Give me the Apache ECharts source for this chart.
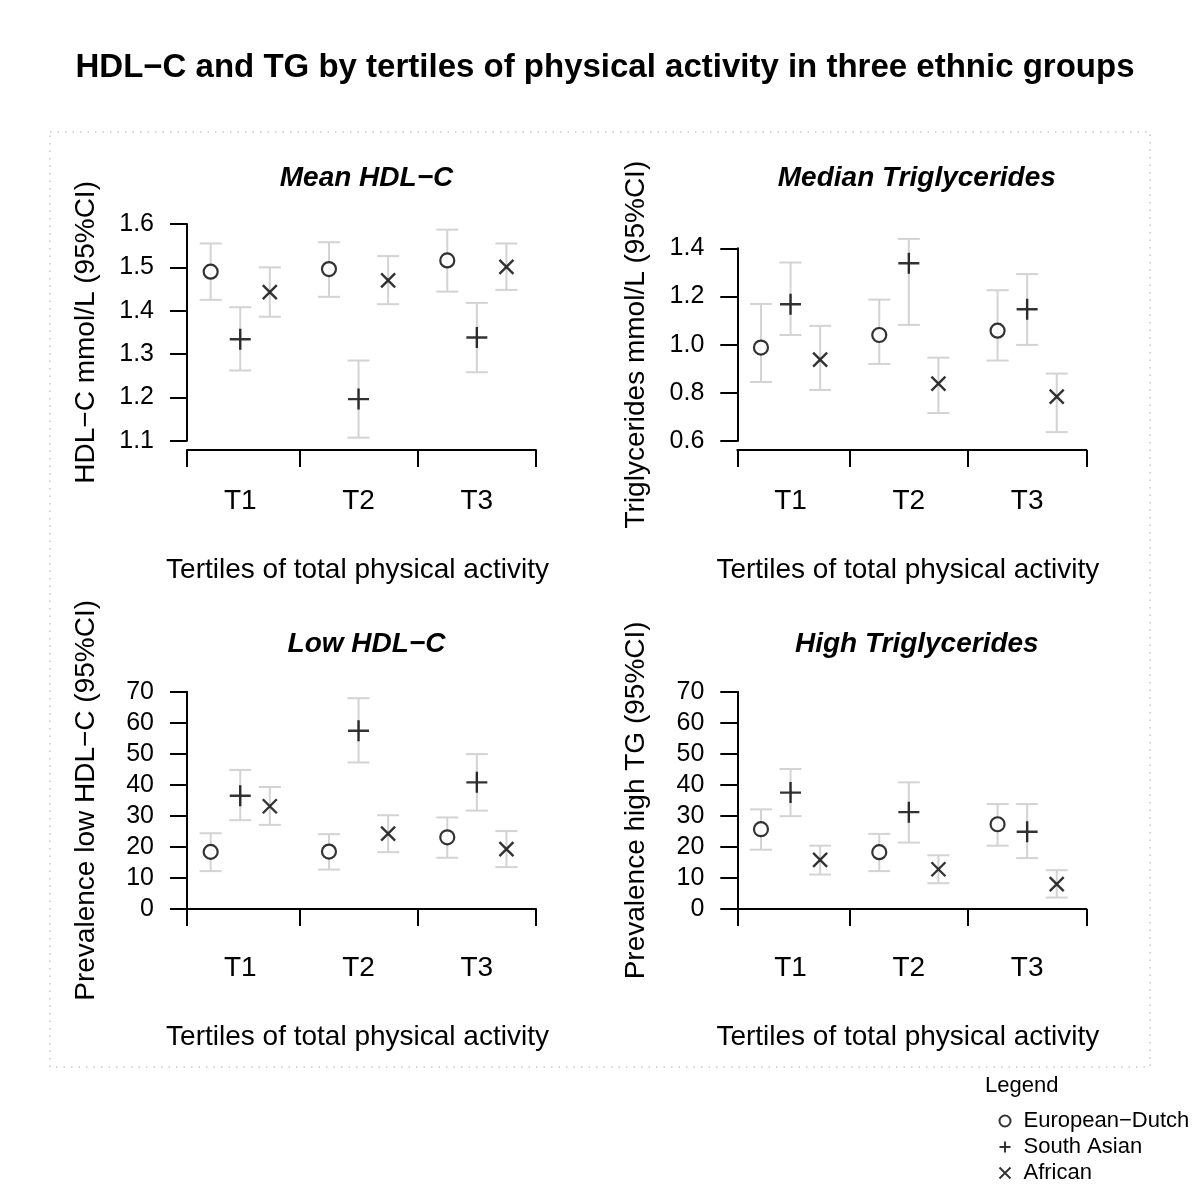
<!DOCTYPE html>
<html>
<head>
<meta charset="utf-8">
<script src="https://cdn.jsdelivr.net/npm/echarts@6/dist/echarts.min.js"></script>
<style>html,body{margin:0;padding:0;background:#fff}#c{width:1200px;height:1200px}</style>
</head>
<body>
<div id="c"></div>
<script>
// ---- Data (rows: European-Dutch, South Asian, African; columns: T1, T2, T3) ----
const categories = ['T1', 'T2', 'T3'];
const groups = ['European\u2212Dutch', 'South Asian', 'African'];

const hdlMean  = [[1.490, 1.496, 1.516], [1.334, 1.196, 1.338], [1.443, 1.470, 1.501]];
const hdlLower = [[1.425, 1.432, 1.444], [1.262, 1.107, 1.258], [1.386, 1.415, 1.448]];
const hdlUpper = [[1.555, 1.558, 1.587], [1.408, 1.285, 1.418], [1.500, 1.526, 1.555]];

const tgMedian = [[0.988, 1.040, 1.058], [1.168, 1.338, 1.147], [0.938, 0.838, 0.784]];
const tgLower  = [[0.845, 0.920, 0.934], [1.040, 1.082, 0.999], [0.812, 0.716, 0.637]];
const tgUpper  = [[1.169, 1.187, 1.226], [1.341, 1.439, 1.293], [1.078, 0.946, 0.880]];

const lowHdlPrev  = [[18.4, 18.5, 23.1], [36.5, 57.4, 40.8], [33.1, 24.3, 19.3]];
const lowHdlLower = [[12.2, 12.7, 16.5], [28.6, 47.2, 31.7], [27.1, 18.3, 13.5]];
const lowHdlUpper = [[24.4, 24.1, 29.5], [44.8, 67.9, 49.9], [39.3, 30.2, 25.1]];

const highTgPrev  = [[25.7, 18.3, 27.3], [37.5, 31.2, 24.9], [15.8, 12.8, 8.0]];
const highTgLower = [[19.1, 12.2, 20.4], [29.9, 21.4, 16.4], [11.1, 8.3, 3.7]];
const highTgUpper = [[32.1, 24.2, 33.8], [45.1, 40.8, 33.8], [20.4, 17.3, 12.5]];

const hdlTicks = [1.1, 1.6, 0.1];
const tgTicks = [0.6, 1.4, 0.2];
const prevTicks = [0, 70, 10];

// ---- Layout ----
const FONT = 'Liberation Sans';
const panels = [
  { title: 'Mean HDL\u2212C', yName: 'HDL\u2212C mmol/L (95%CI)', mean: hdlMean, lo: hdlLower, hi: hdlUpper, ticks: hdlTicks, dec: 1,
    left: 187, top: 224, height: 216.7, xOffset: 9.3, titleY: 175 },
  { title: 'Median Triglycerides', yName: 'Triglycerides mmol/L (95%CI)', mean: tgMedian, lo: tgLower, hi: tgUpper, ticks: tgTicks, dec: 1,
    left: 737.3, top: 248.3, height: 192.7, xOffset: 9, titleY: 175 },
  { title: 'Low HDL\u2212C', yName: 'Prevalence low HDL\u2212C (95%CI)', mean: lowHdlPrev, lo: lowHdlLower, hi: lowHdlUpper, ticks: prevTicks, dec: 0,
    left: 187, top: 691.7, height: 217.3, xOffset: 8.3, titleY: 641 },
  { title: 'High Triglycerides', yName: 'Prevalence high TG (95%CI)', mean: highTgPrev, lo: highTgLower, hi: highTgUpper, ticks: prevTicks, dec: 0,
    left: 737.3, top: 691.7, height: 217.3, xOffset: 8.3, titleY: 641 }
];
const GW = 349;
const xPos = (t, g) => 4 * t + g + 1;

const symbols = [
  { symbol: 'circle', size: 14, style: { color: '#ffffff', borderColor: '#000', borderWidth: 2.2 } },
  { symbol: 'path://M0,5L10,5M5,0L5,10', size: 21, style: { color: 'none', borderColor: '#000', borderWidth: 2.4 } },
  { symbol: 'path://M0,0L10,10M10,0L0,10', size: 14, style: { color: 'none', borderColor: '#000', borderWidth: 2.4 } }
];

const grid = [], xAxis = [], yAxis = [], series = [], titles = [];

titles.push({
  text: 'HDL\u2212C and TG by tertiles of physical activity in three ethnic groups',
  left: 600, top: 46, textAlign: 'center',
  textStyle: { fontFamily: FONT, fontSize: 33, fontWeight: 'bold', color: '#000' }
});
titles.push({
  text: 'Legend', left: 980, top: 1070,
  textStyle: { fontFamily: FONT, fontSize: 22, fontWeight: 'normal', color: '#000' }
});

panels.forEach((p, i) => {
  grid.push({ left: p.left, top: p.top, width: GW, height: p.height, containLabel: false });
  titles.push({
    text: p.title, left: p.left + GW / 2, top: p.titleY - 16, textAlign: 'center',
    textStyle: { fontFamily: FONT, fontSize: 28, fontWeight: 'bold', fontStyle: 'italic', color: '#000' }
  });
  xAxis.push({
    gridIndex: i, type: 'value', min: 0.2, max: 12, offset: p.xOffset,
    name: 'Tertiles of total physical activity', nameLocation: 'middle', nameGap: 106,
    nameTextStyle: { fontFamily: FONT, fontSize: 28, color: '#000', padding: [0, 8, 0, 0] },
    axisLine: { show: true, lineStyle: { color: '#000', width: 2 } },
    axisTick: { show: true, length: 17, lineStyle: { color: '#000', width: 2 }, customValues: [0.2, 4, 8, 12] },
    axisLabel: { show: true, margin: 37, fontFamily: FONT, fontSize: 28, color: '#000',
      customValues: [2, 6, 10], formatter: v => categories[Math.round((v - 2) / 4)] },
    splitLine: { show: false }
  });
  yAxis.push({
    gridIndex: i, type: 'value', min: p.ticks[0], max: p.ticks[1], interval: p.ticks[2],
    name: p.yName, nameLocation: 'middle', nameGap: 87, nameRotate: 90,
    nameTextStyle: { fontFamily: FONT, fontSize: 28, color: '#000' },
    axisLine: { show: true, lineStyle: { color: '#000', width: 2 } },
    axisTick: { show: true, length: 17, lineStyle: { color: '#000', width: 2 } },
    axisLabel: { margin: 33, fontFamily: FONT, fontSize: 25, color: '#000',
      formatter: v => v.toFixed(p.dec) },
    splitLine: { show: false }
  });
  // error bars
  const ebData = [];
  for (let g = 0; g < 3; g++) for (let t = 0; t < 3; t++) ebData.push([xPos(t, g), p.lo[g][t], p.hi[g][t]]);
  series.push({
    type: 'custom', name: 'ci' + i, xAxisIndex: i, yAxisIndex: i, clip: false, z: 1,
    encode: { x: 0, y: [1, 2] }, data: ebData,
    renderItem: (params, api) => {
      const a = api.coord([api.value(0), api.value(1)]);
      const b = api.coord([api.value(0), api.value(2)]);
      const hw = 11;
      const st = { stroke: '#d3d3d3', lineWidth: 2 };
      return { type: 'group', children: [
        { type: 'line', shape: { x1: a[0], y1: a[1], x2: b[0], y2: b[1] }, style: st },
        { type: 'line', shape: { x1: a[0] - hw, y1: a[1], x2: a[0] + hw, y2: a[1] }, style: st },
        { type: 'line', shape: { x1: b[0] - hw, y1: b[1], x2: b[0] + hw, y2: b[1] }, style: st }
      ] };
    }
  });
  for (let g = 0; g < 3; g++) {
    series.push({
      type: 'scatter', name: groups[g], xAxisIndex: i, yAxisIndex: i, clip: false, z: 3,
      symbol: symbols[g].symbol, symbolSize: symbols[g].size, itemStyle: symbols[g].style,
      emphasis: { disabled: true },
      data: categories.map((c, t) => [xPos(t, g), p.mean[g][t]])
    });
  }
});

const chart = echarts.init(document.getElementById('c'), null, { renderer: 'canvas' });
chart.setOption({
  animation: false,
  backgroundColor: '#fff',
  title: titles,
  grid, xAxis, yAxis, series,
  legend: {
    data: groups, orient: 'vertical', left: 992, top: 1105, itemWidth: 11, itemHeight: 11, itemGap: 4,
    selectedMode: false,
    textStyle: { fontFamily: FONT, fontSize: 22, color: '#000', padding: [0, 0, 0, 8] }
  },
  graphic: [{
    type: 'rect', shape: { x: 50, y: 132, width: 1100, height: 935 }, silent: true,
    style: { fill: 'none', stroke: '#c8c8c8', lineWidth: 1.5, lineDash: [1.5, 6] }
  }]
});
</script>
</body>
</html>
